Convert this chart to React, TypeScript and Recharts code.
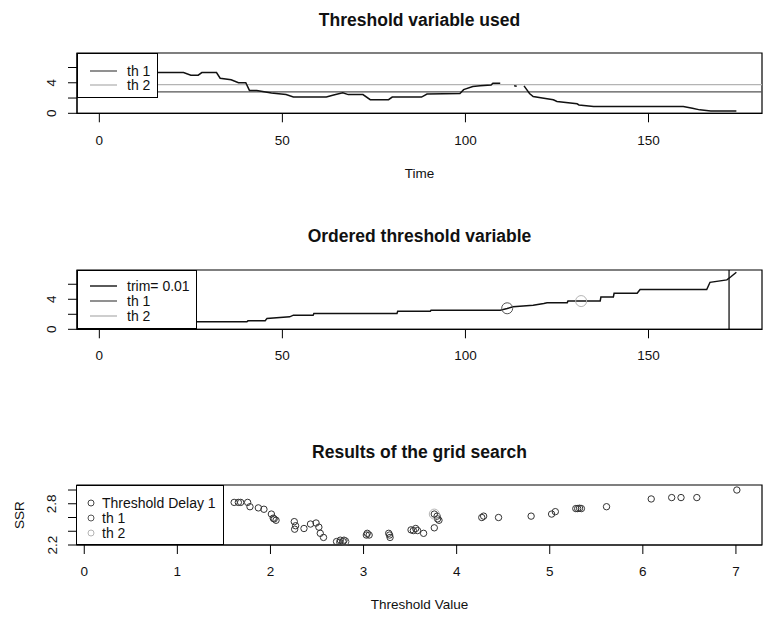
import React from "react";
import {
  ComposedChart,
  Line,
  Scatter,
  XAxis,
  YAxis,
  ReferenceLine,
  ReferenceArea,
  ReferenceDot,
  Legend,
} from "recharts";

// threshold variable over time (nulls = gaps in the drawn line)
const timeIdx = [
  1, 3, 5, 8, 11, 14, 16, 23, 25, 27, 28, 32, 33, 36, 38, 40, 41, 43, 47, 51,
  53, 62, 64, 66.5, 68, 72, 74, 79, 80, 88, 89.5, 98.5, 99.5, 102, 104, 107,
  107.5, 109.5, 110, 113.3, 114, 114.5, 116, 117.5, 118.5, 121, 124, 125,
  130.5, 131, 135, 159.5, 162, 164, 167, 174,
];
const thVar: (number | null)[] = [
  6.9, 7.6, 7.2, 6.4, 5.9, 5.5, 5.33, 5.33, 5.0, 5.0, 5.33, 5.33, 4.6, 4.4,
  4.0, 4.0, 3.0, 3.0, 2.65, 2.45, 2.13, 2.13, 2.4, 2.7, 2.45, 2.45, 1.78, 1.78,
  2.13, 2.13, 2.53, 2.6, 3.1, 3.5, 3.6, 3.7, 3.95, 3.95, null, 3.6, 3.55, null,
  3.6, 2.6, 2.2, 2.0, 1.78, 1.55, 1.24, 1.1, 0.9, 0.9, 0.67, 0.45, 0.3, 0.3,
];

// ordered threshold variable
const orderIdx = [
  1, 5, 10, 15, 20, 26.6, 40.3, 40.6, 45.3, 45.8, 52, 53, 58.4, 58.6, 81.3,
  81.5, 90.4, 90.6, 109.5, 111.4, 113, 118.5, 121.4, 122.3, 127.8, 128, 136.8,
  137, 140.4, 140.6, 146.9, 147.7, 165.9, 166.8, 171.4, 172.5, 174,
];
const orderedVal = [
  0.3, 0.35, 0.45, 0.67, 0.9, 1.0, 1.0, 1.13, 1.13, 1.45, 1.66, 1.88, 1.88,
  2.1, 2.1, 2.4, 2.4, 2.54, 2.54, 2.76, 3.0, 3.2, 3.45, 3.55, 3.55, 3.76,
  3.76, 4.3, 4.3, 4.8, 4.8, 5.3, 5.3, 6.26, 6.58, 7.0, 7.6,
];

// grid search results
const gridThreshold = [
  1.61, 1.655, 1.68, 1.755, 1.78, 1.87, 1.93, 2.01, 2.03, 2.04, 2.06, 2.256,
  2.27, 2.26, 2.36, 2.43, 2.49, 2.52, 2.535, 2.57, 2.71, 2.75, 2.78, 2.745,
  2.79, 3.03, 3.04, 3.06, 3.27, 3.28, 3.285, 3.51, 3.535, 3.56, 3.58, 3.645,
  3.76, 3.76, 3.79, 3.795, 3.81, 4.27, 4.29, 4.45, 4.8, 5.02, 5.06, 5.28, 5.3,
  5.32, 5.34, 5.61, 6.09, 6.31, 6.41, 6.58, 7.01,
];
const gridSSR = [
  2.82, 2.82, 2.82, 2.82, 2.757, 2.74, 2.72, 2.65, 2.59, 2.58, 2.56, 2.54,
  2.48, 2.43, 2.44, 2.505, 2.52, 2.46, 2.37, 2.31, 2.25, 2.27, 2.25, 2.24,
  2.27, 2.345, 2.37, 2.345, 2.37, 2.345, 2.31, 2.42, 2.41, 2.44, 2.41, 2.37,
  2.45, 2.65, 2.62, 2.58, 2.56, 2.6, 2.62, 2.6, 2.62, 2.65, 2.685, 2.73, 2.73,
  2.735, 2.73, 2.757, 2.87, 2.89, 2.89, 2.89, 3.0,
];

const th1 = 2.8;
const th2 = 3.76;
const th1Pos = 111.4;
const th2Pos = 131.6;
const th1SSR = 2.25;
const th2SSR = 2.65;
const trimLow = 3;
const trimHigh = 172;

const timeTicks = [0, 50, 100, 150];
const valueTicks = [0, 2, 4, 6];
const valueLabels = [0, 4];
const thrTicks = [0, 1, 2, 3, 4, 5, 6, 7];
const ssrTicks = [2.2, 2.4, 2.6, 2.8, 3.0];
const ssrLabels = [2.2, 2.8];

const series1 = timeIdx.map((t, i) => ({ t, v: thVar[i] }));
const series2 = orderIdx.map((t, i) => ({ t, v: orderedVal[i] }));
const gridPoints = gridThreshold.map((x, i) => ({ x, y: gridSSR[i] }));

const FONT = '"Liberation Sans", Arial, sans-serif';
const TIME_DOM: [number, number] = [-6.1, 181];
const VAL_DOM: [number, number] = [0, 7.9];
const THR_DOM: [number, number] = [-0.078, 7.28];
const SSR_DOM: [number, number] = [2.2, 3.073];

const makeYTick = (shown: number[]) => (props: any) => {
  const { x, y, payload } = props;
  if (!shown.includes(payload.value)) return <g />;
  const cx = x - 14;
  return (
    <text
      x={cx}
      y={y}
      transform={`rotate(-90 ${cx} ${y})`}
      textAnchor="middle"
      dominantBaseline="central"
      fontSize={13.5}
      fill="#111"
    >
      {payload.value}
    </text>
  );
};

type Item = { label: string; color: string; kind: "line" | "dot" };

const boxLegend =
  (items: Item[], width: number, height: number, first: number, gap: number) =>
  () =>
    (
      <div
        style={{
          width,
          height,
          background: "#fff",
          border: "1px solid #000",
          boxSizing: "border-box",
          position: "relative",
          fontFamily: FONT,
        }}
      >
        {items.map((it, i) => (
          <div
            key={it.label}
            style={{
              position: "absolute",
              left: it.kind === "line" ? 12 : 9,
              top: first + i * gap - 7,
              height: 14,
              display: "flex",
              alignItems: "center",
              whiteSpace: "nowrap",
            }}
          >
            {it.kind === "line" ? (
              <svg width={27} height={14} style={{ display: "block" }}>
                <line x1={0} x2={27} y1={7} y2={7} stroke={it.color} strokeWidth={1.3} />
              </svg>
            ) : (
              <svg width={10} height={14} style={{ display: "block" }}>
                <circle cx={5} cy={7} r={3} fill="none" stroke={it.color} strokeWidth={1} />
              </svg>
            )}
            <div
              style={{
                marginLeft: it.kind === "line" ? 10 : 6,
                fontSize: 14,
                color: "#111",
                lineHeight: "14px",
                height: 14,
              }}
            >
              {it.label}
            </div>
          </div>
        ))}
      </div>
    );

const Label = ({ text, cy, bold }: { text: string; cy: number; bold?: boolean }) => (
  <div
    style={{
      position: "absolute",
      left: 219.5,
      width: 400,
      top: cy - 10,
      lineHeight: "20px",
      textAlign: "center",
      fontSize: bold ? 17.5 : 13.5,
      fontWeight: bold ? "bold" : "normal",
      color: "#111",
    }}
  >
    {text}
  </div>
);

const xTick = { fill: "#111", fontSize: 13.5 };

export default function App() {
  return (
    <div
      style={{
        position: "absolute",
        left: 0,
        top: 0,
        width: 775,
        height: 621,
        background: "#fff",
        fontFamily: FONT,
        overflow: "hidden",
      }}
    >
      <Label text="Threshold variable used" cy={20} bold />
      <Label text="Ordered threshold variable" cy={236} bold />
      <Label text="Results of the grid search" cy={452} bold />
      <Label text="Time" cy={174} />
      <Label text="Threshold Value" cy={605} />
      <div
        style={{
          position: "absolute",
          left: 0,
          top: 505,
          width: 40,
          lineHeight: "20px",
          textAlign: "center",
          fontSize: 13.5,
          color: "#111",
          transform: "rotate(-90deg)",
        }}
      >
        SSR
      </div>

      {/* panel 1 */}
      <div style={{ position: "absolute", left: 0, top: 0 }}>
        <ComposedChart
          width={775}
          height={200}
          data={series1}
          margin={{ top: 53, right: 13, bottom: 46.7, left: 32 }}
        >
          <XAxis
            type="number"
            dataKey="t"
            domain={TIME_DOM}
            ticks={timeTicks}
            interval={0}
            allowDataOverflow
            height={40}
            tickSize={9}
            tickMargin={13}
            stroke="#000"
            tick={xTick}
          />
          <YAxis
            type="number"
            domain={VAL_DOM}
            ticks={valueTicks}
            interval={0}
            allowDataOverflow
            width={45}
            tickSize={9}
            stroke="#000"
            tick={makeYTick(valueLabels)}
          />
          <ReferenceArea x1={TIME_DOM[0]} x2={TIME_DOM[1]} y1={VAL_DOM[0]} y2={VAL_DOM[1]} fill="none" stroke="#000" strokeWidth={1.2} />
          <ReferenceLine y={th1} stroke="#555" strokeWidth={1.2} />
          <ReferenceLine y={th2} stroke="#b4b4b4" strokeWidth={1.2} />
          <Line
            type="linear"
            dataKey="v"
            stroke="#111"
            strokeWidth={1.5}
            dot={false}
            isAnimationActive={false}
            connectNulls={false}
          />
          <Legend
            layout="horizontal"
            verticalAlign="middle"
            align="center"
            wrapperStyle={{ left: 77, top: 53, width: 81, height: 45 }}
            content={boxLegend(
              [
                { label: "th 1", color: "#555", kind: "line" },
                { label: "th 2", color: "#b4b4b4", kind: "line" },
              ],
              81,
              45,
              16.5,
              14.5
            )}
          />
        </ComposedChart>
      </div>

      {/* panel 2 */}
      <div style={{ position: "absolute", left: 0, top: 200 }}>
        <ComposedChart
          width={775}
          height={200}
          data={series2}
          margin={{ top: 70, right: 13, bottom: 30.7, left: 32 }}
        >
          <XAxis
            type="number"
            dataKey="t"
            domain={TIME_DOM}
            ticks={timeTicks}
            interval={0}
            allowDataOverflow
            height={40}
            tickSize={9}
            tickMargin={12}
            stroke="#000"
            tick={xTick}
          />
          <YAxis
            type="number"
            domain={VAL_DOM}
            ticks={valueTicks}
            interval={0}
            allowDataOverflow
            width={45}
            tickSize={9}
            stroke="#000"
            tick={makeYTick(valueLabels)}
          />
          <ReferenceArea x1={TIME_DOM[0]} x2={TIME_DOM[1]} y1={VAL_DOM[0]} y2={VAL_DOM[1]} fill="none" stroke="#000" strokeWidth={1.2} />
          <ReferenceLine x={trimLow} stroke="#000" strokeWidth={1.2} />
          <ReferenceLine x={trimHigh} stroke="#000" strokeWidth={1.2} />
          <Line
            type="linear"
            dataKey="v"
            stroke="#111"
            strokeWidth={1.5}
            dot={false}
            isAnimationActive={false}
          />
          <ReferenceDot x={th1Pos} y={th1} r={5.5} fill="none" stroke="#555" strokeWidth={1} />
          <ReferenceDot x={th2Pos} y={th2} r={5.5} fill="none" stroke="#b4b4b4" strokeWidth={1} />
          <Legend
            layout="horizontal"
            verticalAlign="middle"
            align="center"
            wrapperStyle={{ left: 77, top: 70, width: 120, height: 59.3 }}
            content={boxLegend(
              [
                { label: "trim= 0.01", color: "#000", kind: "line" },
                { label: "th 1", color: "#555", kind: "line" },
                { label: "th 2", color: "#b4b4b4", kind: "line" },
              ],
              120,
              59.3,
              15,
              15
            )}
          />
        </ComposedChart>
      </div>

      {/* panel 3 */}
      <div style={{ position: "absolute", left: 0, top: 420 }}>
        <ComposedChart
          width={775}
          height={200}
          margin={{ top: 65, right: 13, bottom: 35, left: 32 }}
        >
          <XAxis
            type="number"
            dataKey="x"
            domain={THR_DOM}
            ticks={thrTicks}
            interval={0}
            allowDataOverflow
            height={40}
            tickSize={9}
            tickMargin={12}
            stroke="#000"
            tick={xTick}
          />
          <YAxis
            type="number"
            dataKey="y"
            domain={SSR_DOM}
            ticks={ssrTicks}
            interval={0}
            allowDataOverflow
            width={45}
            tickSize={9}
            stroke="#000"
            tick={makeYTick(ssrLabels)}
          />
          <ReferenceArea x1={THR_DOM[0]} x2={THR_DOM[1]} y1={SSR_DOM[0]} y2={SSR_DOM[1]} fill="none" stroke="#000" strokeWidth={1.2} />
          <Scatter
            data={gridPoints}
            dataKey="y"
            isAnimationActive={false}
            shape={(p: any) => (
              <circle cx={p.cx} cy={p.cy} r={3.2} fill="none" stroke="#333" strokeWidth={1} />
            )}
          />
          <ReferenceDot x={th1} y={th1SSR} r={4} fill="none" stroke="#555" strokeWidth={1} />
          <ReferenceDot x={th2} y={th2SSR} r={5} fill="none" stroke="#b4b4b4" strokeWidth={1} />
          <Legend
            layout="horizontal"
            verticalAlign="middle"
            align="center"
            wrapperStyle={{ left: 76, top: 65, width: 148.3, height: 60 }}
            content={boxLegend(
              [
                { label: "Threshold Delay 1", color: "#444", kind: "dot" },
                { label: "th 1", color: "#555", kind: "dot" },
                { label: "th 2", color: "#b4b4b4", kind: "dot" },
              ],
              148.3,
              60,
              17,
              15
            )}
          />
        </ComposedChart>
      </div>
    </div>
  );
}
